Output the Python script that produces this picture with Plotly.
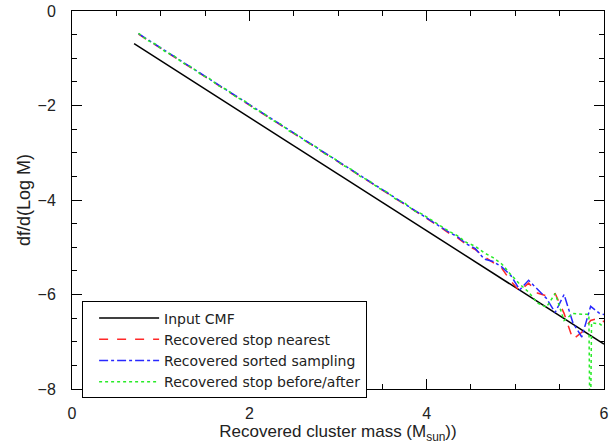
import plotly.graph_objects as go

# Input CMF (straight line)
cmf_x = [0.70, 2.0, 4.0, 6.0]
cmf_y = [-0.69, -2.25, -4.65, -7.05]

# Recovered curves: common mass grid
rec_x = [0.75, 0.85, 0.95, 1.05, 1.15, 1.25, 1.35, 1.45, 1.55, 1.65,
         1.75, 1.85, 1.95, 2.05, 2.15, 2.25, 2.35, 2.45, 2.55, 2.65,
         2.75, 2.85, 2.95, 3.05, 3.15, 3.25, 3.35, 3.45, 3.55, 3.65,
         3.75, 3.85, 3.95, 4.05, 4.15, 4.25, 4.35, 4.45, 4.55, 4.65,
         4.75, 4.85, 4.95, 5.05, 5.15, 5.25, 5.35, 5.45, 5.55, 5.65,
         5.75, 5.85, 5.95, 6.05]

nearest_y = [-0.49, -0.61, -0.72, -0.85, -0.97, -1.08, -1.21, -1.33, -1.44, -1.57,
             -1.69, -1.80, -1.93, -2.05, -2.16, -2.29, -2.41, -2.52, -2.65, -2.77,
             -2.88, -3.01, -3.12, -3.25, -3.37, -3.48, -3.61, -3.72, -3.85, -3.97,
             -4.08, -4.21, -4.33, -4.44, -4.57, -4.70, -4.80, -4.95, -5.05, -5.20,
             -5.33, -5.45, -5.72, -5.93, -5.76, -5.97, -6.03, -5.98, -6.40, -6.95,
             -6.80, -6.55, -6.50, -6.65]

sorted_y = [-0.48, -0.60, -0.73, -0.84, -0.97, -1.09, -1.20, -1.33, -1.45, -1.56,
            -1.69, -1.81, -1.92, -2.05, -2.17, -2.28, -2.41, -2.53, -2.64, -2.77,
            -2.89, -3.00, -3.13, -3.24, -3.37, -3.49, -3.60, -3.73, -3.84, -3.97,
            -4.09, -4.20, -4.33, -4.45, -4.56, -4.68, -4.78, -4.93, -5.03, -5.25,
            -5.30, -5.42, -5.60, -5.90, -5.70, -5.90, -6.08, -6.38, -6.00, -6.60,
            -6.90, -6.25, -6.40, -6.45]

before_after_x = [0.75, 0.85, 0.95, 1.05, 1.15, 1.25, 1.35, 1.45, 1.55, 1.65,
                  1.75, 1.85, 1.95, 2.05, 2.15, 2.25, 2.35, 2.45, 2.55, 2.65,
                  2.75, 2.85, 2.95, 3.05, 3.15, 3.25, 3.35, 3.45, 3.55, 3.65,
                  3.75, 3.85, 3.95, 4.05, 4.15, 4.25, 4.35, 4.45, 4.55, 4.65,
                  4.75, 4.85, 4.95, 5.05, 5.15, 5.25, 5.35, 5.45, 5.55, 5.65,
                  5.75, 5.83, 5.845, 5.86, 5.95, 6.05]
before_after_y = [-0.47, -0.62, -0.71, -0.86, -0.95, -1.10, -1.19, -1.34, -1.43, -1.58,
                  -1.67, -1.82, -1.91, -2.06, -2.15, -2.30, -2.39, -2.54, -2.63, -2.78,
                  -2.87, -3.02, -3.11, -3.26, -3.35, -3.50, -3.59, -3.74, -3.83, -3.98,
                  -4.06, -4.22, -4.30, -4.42, -4.54, -4.66, -4.76, -4.90, -4.98, -5.12,
                  -5.22, -5.36, -5.58, -5.78, -5.95, -6.18, -6.27, -5.98, -6.55, -6.40,
                  -6.42, -6.42, -9.50, -6.60, -6.62, -6.75]

x_ticks = [0, 2, 4, 6]
y_ticks = [0, -2, -4, -6, -8]

font_family = "Liberation Sans, Arial, sans-serif"
legend_family = "DejaVu Sans, Liberation Sans, sans-serif"
text_color = "#222"

fig = go.Figure()
fig.add_trace(go.Scatter(x=cmf_x, y=cmf_y, mode="lines", name="Input CMF",
                         line=dict(color="black", width=1.5)))
fig.add_trace(go.Scatter(x=rec_x, y=nearest_y, mode="lines", name="Recovered stop nearest",
                         line=dict(color="rgb(255,40,40)", width=1.5, dash="dash")))
fig.add_trace(go.Scatter(x=rec_x, y=sorted_y, mode="lines", name="Recovered sorted sampling",
                         line=dict(color="rgb(40,40,255)", width=1.5, dash="dashdot")))
fig.add_trace(go.Scatter(x=before_after_x, y=before_after_y, mode="lines",
                         name="Recovered stop before/after",
                         line=dict(color="rgb(40,235,40)", width=1.5, dash="dot")))

axis_common = dict(showline=True, linecolor="black", linewidth=1, mirror="ticks",
                   ticks="inside", ticklen=10, tickcolor="black", showgrid=False,
                   zeroline=False, ticklabeloverflow="allow",
                   minor=dict(dtick=0.5, ticks="inside", ticklen=5, tickcolor="black"),
                   tickfont=dict(family=font_family, size=16, color=text_color))

fig.update_xaxes(range=[-0.0005, 6.0005], tickvals=x_ticks, ticklabelstandoff=10,
                 title=dict(text="Recovered cluster mass (M<sub>sun</sub>))",
                            font=dict(family=font_family, size=17, color=text_color),
                            standoff=4),
                 **axis_common)
fig.update_yaxes(range=[-8.0005, 0.0005], tickvals=y_ticks, ticklabelstandoff=12,
                 title=dict(text="df/d(Log M)",
                            font=dict(family=font_family, size=18, color=text_color),
                            standoff=2),
                 **axis_common)

fig.update_layout(
    width=612, height=444,
    margin=dict(l=72, r=3, t=9, b=55),
    paper_bgcolor="white", plot_bgcolor="white",
    showlegend=True,
    legend=dict(x=0.019, y=0.2316, xanchor="left", yanchor="top",
                bgcolor="white", bordercolor="black", borderwidth=1,
                font=dict(family=legend_family, size=14, color=text_color),
                itemwidth=60, indentation=11, tracegroupgap=0),
)

fig.write_html("out.html")
